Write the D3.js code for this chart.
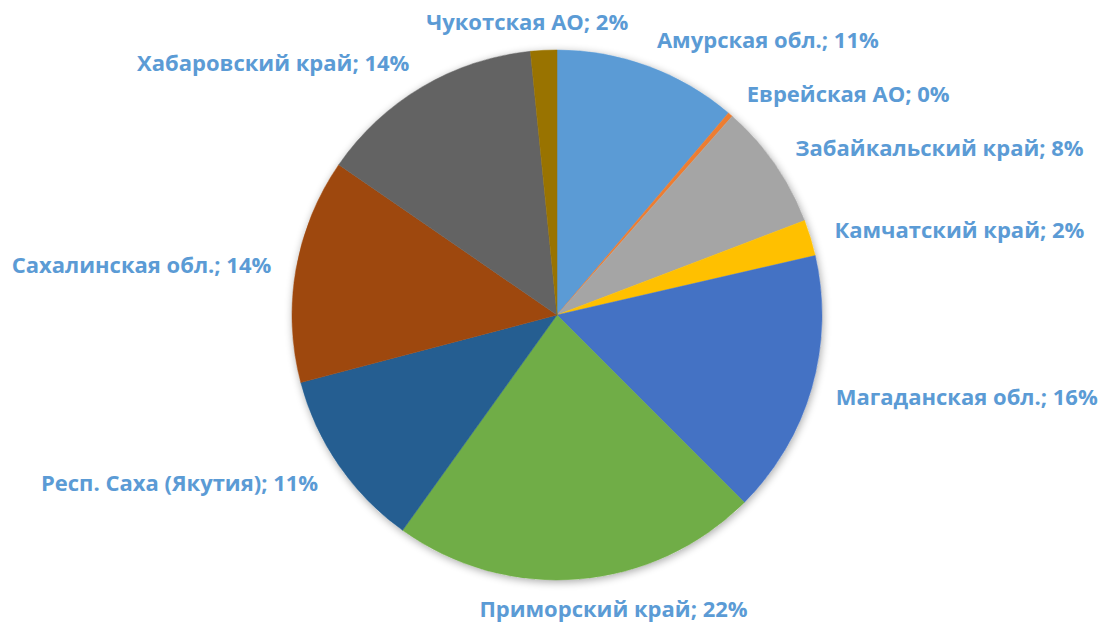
<!DOCTYPE html>
<html>
<head>
<meta charset="utf-8">
<script src="https://cdn.jsdelivr.net/npm/d3@7"></script>
<style>
  body { margin: 0; background: #fff; }
  svg { display: block; }
</style>
</head>
<body>
<svg id="chart" width="1107" height="622"></svg>
<script>
// regions, clockwise from 12 o'clock
const regions = ['Амурская обл.', 'Еврейская АО', 'Забайкальский край', 'Камчатский край',
  'Магаданская обл.', 'Приморский край', 'Респ. Саха (Якутия)', 'Сахалинская обл.',
  'Хабаровский край', 'Чукотская АО'];
// shares in percent
const shares = [11.2, 0.3, 7.7, 2.2, 16.1, 22.4, 11.0, 13.7, 13.8, 1.6];
// labels as printed
const pctLabels = ['11%', '0%', '8%', '2%', '16%', '22%', '11%', '14%', '14%', '2%'];
const colors = ['#5B9BD5', '#ED7D31', '#A5A5A5', '#FFC000', '#4472C4',
  '#70AD47', '#255E91', '#9E480E', '#636363', '#997300'];

const svg = d3.select('#chart');
const cx = 557, cy = 315, radius = 265;

// soft shadow behind the pie
const defs = svg.append('defs');
const f = defs.append('filter').attr('id', 'shadow')
  .attr('x', '-20%').attr('y', '-20%').attr('width', '140%').attr('height', '140%');
f.append('feGaussianBlur').attr('in', 'SourceAlpha').attr('stdDeviation', 4).attr('result', 'b');
f.append('feOffset').attr('in', 'b').attr('dx', 1).attr('dy', 2).attr('result', 'o');
f.append('feComponentTransfer').attr('in', 'o').attr('result', 'o2')
  .append('feFuncA').attr('type', 'linear').attr('slope', 0.35);
const m = f.append('feMerge');
m.append('feMergeNode').attr('in', 'o2');
m.append('feMergeNode').attr('in', 'SourceGraphic');

const data = regions.map((r, i) => ({ name: r, value: shares[i], pct: pctLabels[i], color: colors[i] }));

const pie = d3.pie().value(d => d.value).sort(null);
const arc = d3.arc().innerRadius(0).outerRadius(radius);
const arcs = pie(data);

const g = svg.append('g').attr('transform', `translate(${cx},${cy})`);

g.append('circle').attr('r', radius).attr('fill', '#fff').attr('filter', 'url(#shadow)');

g.selectAll('path.slice')
  .data(arcs)
  .enter().append('path')
  .attr('class', 'slice')
  .attr('d', arc)
  .attr('fill', d => d.data.color)
  .attr('stroke', d => d.data.color)
  .attr('stroke-width', 0.5);

// labels outside end, Excel-like placement
const labelR = radius + 25;
const labels = g.selectAll('text.lbl')
  .data(arcs)
  .enter().append('text')
  .attr('class', 'lbl')
  .attr('font-family', '"Open Sans", sans-serif')
  .attr('font-weight', 'bold')
  .attr('font-size', '22px')
  .attr('fill', '#5B9BD5')
  .attr('text-anchor', 'middle')
  .attr('dominant-baseline', 'central')
  .text(d => `${d.data.name}; ${d.data.pct}`);

labels.each(function(d) {
  const a = (d.startAngle + d.endAngle) / 2;
  const s = Math.sin(a), c = Math.cos(a);
  const px = labelR * s, py = -labelR * c;
  const w = this.getComputedTextLength();
  const k = Math.max(-1, Math.min(1, 3 * s));
  d3.select(this)
    .attr('x', px + k * w / 2)
    .attr('y', py - c * 4);
});
</script>
</body>
</html>
